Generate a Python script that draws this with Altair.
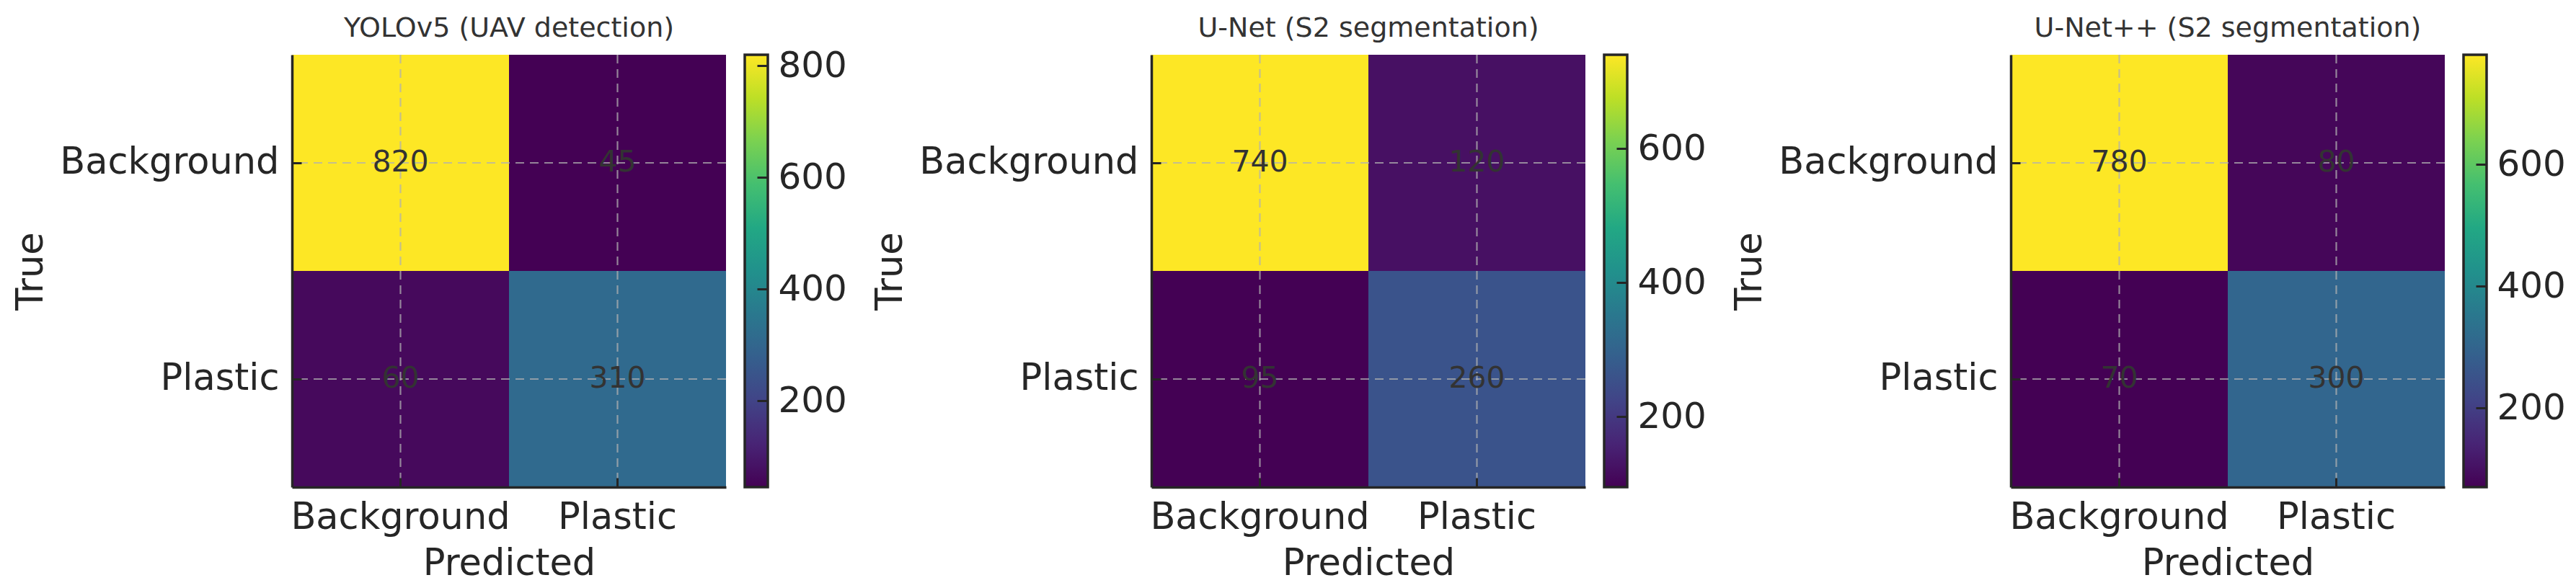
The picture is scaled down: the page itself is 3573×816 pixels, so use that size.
import altair as alt
import pandas as pd

# ---- data -------------------------------------------------------------
classes = ["Background", "Plastic"]
panel_titles = [
    "YOLOv5 (UAV detection)",
    "U-Net (S2 segmentation)",
    "U-Net++ (S2 segmentation)",
]
# confusion matrices, row-major: (True, Predicted)
yolo_vals = [820, 45, 60, 310]
unet_vals = [740, 120, 95, 260]
unetpp_vals = [780, 80, 70, 300]
cbar_tick_candidates = [200, 400, 600, 800]

# ---- style ------------------------------------------------------------
FONT = "DejaVu Sans"
INK = "#262626"
PLOT_W = 602
PLOT_H = 600
CB_W = 32
VIRIDIS = ["#440154", "#482475", "#414487", "#355f8d", "#2a788e", "#21918c",
           "#22a884", "#44bf70", "#7ad151", "#bddf26", "#fde725"]
GRAD = {
    "gradient": "linear", "x1": 0, "x2": 0, "y1": 1, "y2": 0,
    "stops": [{"offset": i / (len(VIRIDIS) - 1), "color": c} for i, c in enumerate(VIRIDIS)],
}


def panel(title, vals):
    rows = []
    k = 0
    for t in classes:
        for p in classes:
            rows.append({"True": t, "Predicted": p, "value": vals[k]})
            k += 1
    df = pd.DataFrame(rows)
    lo, hi = min(vals), max(vals)

    xscale = alt.Scale(domain=classes, paddingInner=0, paddingOuter=0)
    yscale = alt.Scale(domain=classes, paddingInner=0, paddingOuter=0)

    rect = alt.Chart(df).mark_rect().encode(
        x=alt.X("Predicted:N", scale=xscale, axis=alt.Axis(
            orient="bottom", title="Predicted", titleFontSize=51, titleFontWeight="normal",
            titleColor=INK, titlePadding=14, labelFontSize=51, labelColor=INK, labelAngle=0,
            labelPadding=17, labelLimit=600, ticks=False, tickSize=0, domain=True,
            domainColor=INK, domainWidth=3.5, grid=False, zindex=1)),
        y=alt.Y("True:N", scale=yscale, axis=alt.Axis(
            orient="left", title="True", titleFontSize=51, titleFontWeight="normal",
            titleColor=INK, titlePadding=13, labelFontSize=51, labelColor=INK,
            labelPadding=18, labelLimit=600, ticks=False, tickSize=0, domain=True,
            domainColor=INK, domainWidth=3.5, grid=False, minExtent=323, maxExtent=323,
            zindex=1)),
        color=alt.Color("value:Q", scale=alt.Scale(scheme="viridis", domain=[lo, hi],
                                                   nice=False, zero=False), legend=None),
    )

    vgrid = alt.Chart(pd.DataFrame({"Predicted": classes})).mark_rule(
        color="#b0b0b0", opacity=0.75, strokeWidth=2.2, strokeDash=[12, 8]
    ).encode(
        x=alt.X("Predicted:N", scale=xscale, axis=alt.Axis(
            orient="bottom", offset=-13, tickSize=13, tickWidth=3, tickColor=INK,
            domain=False, labels=False, title=None, grid=False, zindex=1)),
    )
    hgrid = alt.Chart(pd.DataFrame({"True": classes})).mark_rule(
        color="#b0b0b0", opacity=0.75, strokeWidth=2.2, strokeDash=[12, 8]
    ).encode(
        y=alt.Y("True:N", scale=yscale, axis=alt.Axis(
            orient="left", offset=-13, tickSize=13, tickWidth=3, tickColor=INK,
            domain=False, labels=False, title=None, grid=False, zindex=1)),
    )
    text = alt.Chart(df).mark_text(fontSize=41, color="#333333", font=FONT).encode(
        x=alt.X("Predicted:N", scale=xscale, axis=None),
        y=alt.Y("True:N", scale=yscale, axis=None),
        text=alt.Text("value:Q"),
    )

    main = alt.layer(rect, vgrid, hgrid, text).resolve_axis(
        x="independent", y="independent"
    ).properties(
        width=PLOT_W, height=PLOT_H,
        title=alt.TitleParams(text=title, fontSize=38, color="#333333", font=FONT,
                              fontWeight="normal", offset=16, anchor="middle", frame="group"),
    )

    ticks = [v for v in cbar_tick_candidates if lo <= v <= hi]
    cb_df = pd.DataFrame({"lo": [lo], "hi": [hi]})
    cbar = alt.Chart(cb_df).mark_rect(fill=GRAD, stroke=INK, strokeWidth=3.5).encode(
        y=alt.Y("lo:Q", scale=alt.Scale(domain=[lo, hi], nice=False, zero=False),
                axis=alt.Axis(orient="right", values=ticks, offset=-15, tickSize=15,
                              tickWidth=3, tickColor=INK, domain=False, grid=False,
                              labelFontSize=50, labelColor=INK, labelPadding=14,
                              title=None, zindex=1)),
        y2="hi:Q",
    ).properties(width=CB_W, height=PLOT_H)

    return alt.hconcat(main, cbar, spacing=26, bounds="flush").resolve_scale(
        x="independent", y="independent", color="independent"
    )


panels = [
    panel(panel_titles[0], yolo_vals),
    panel(panel_titles[1], unet_vals),
    panel(panel_titles[2], unetpp_vals),
]

chart = alt.hconcat(*panels, spacing=33).resolve_scale(
    x="independent", y="independent", color="independent"
).properties(
    padding={"left": 8, "top": 12, "right": 5, "bottom": 5}
).configure(font=FONT).configure_view(stroke="transparent")

chart.save("out.html", embed_options={"renderer": "svg", "actions": False})
